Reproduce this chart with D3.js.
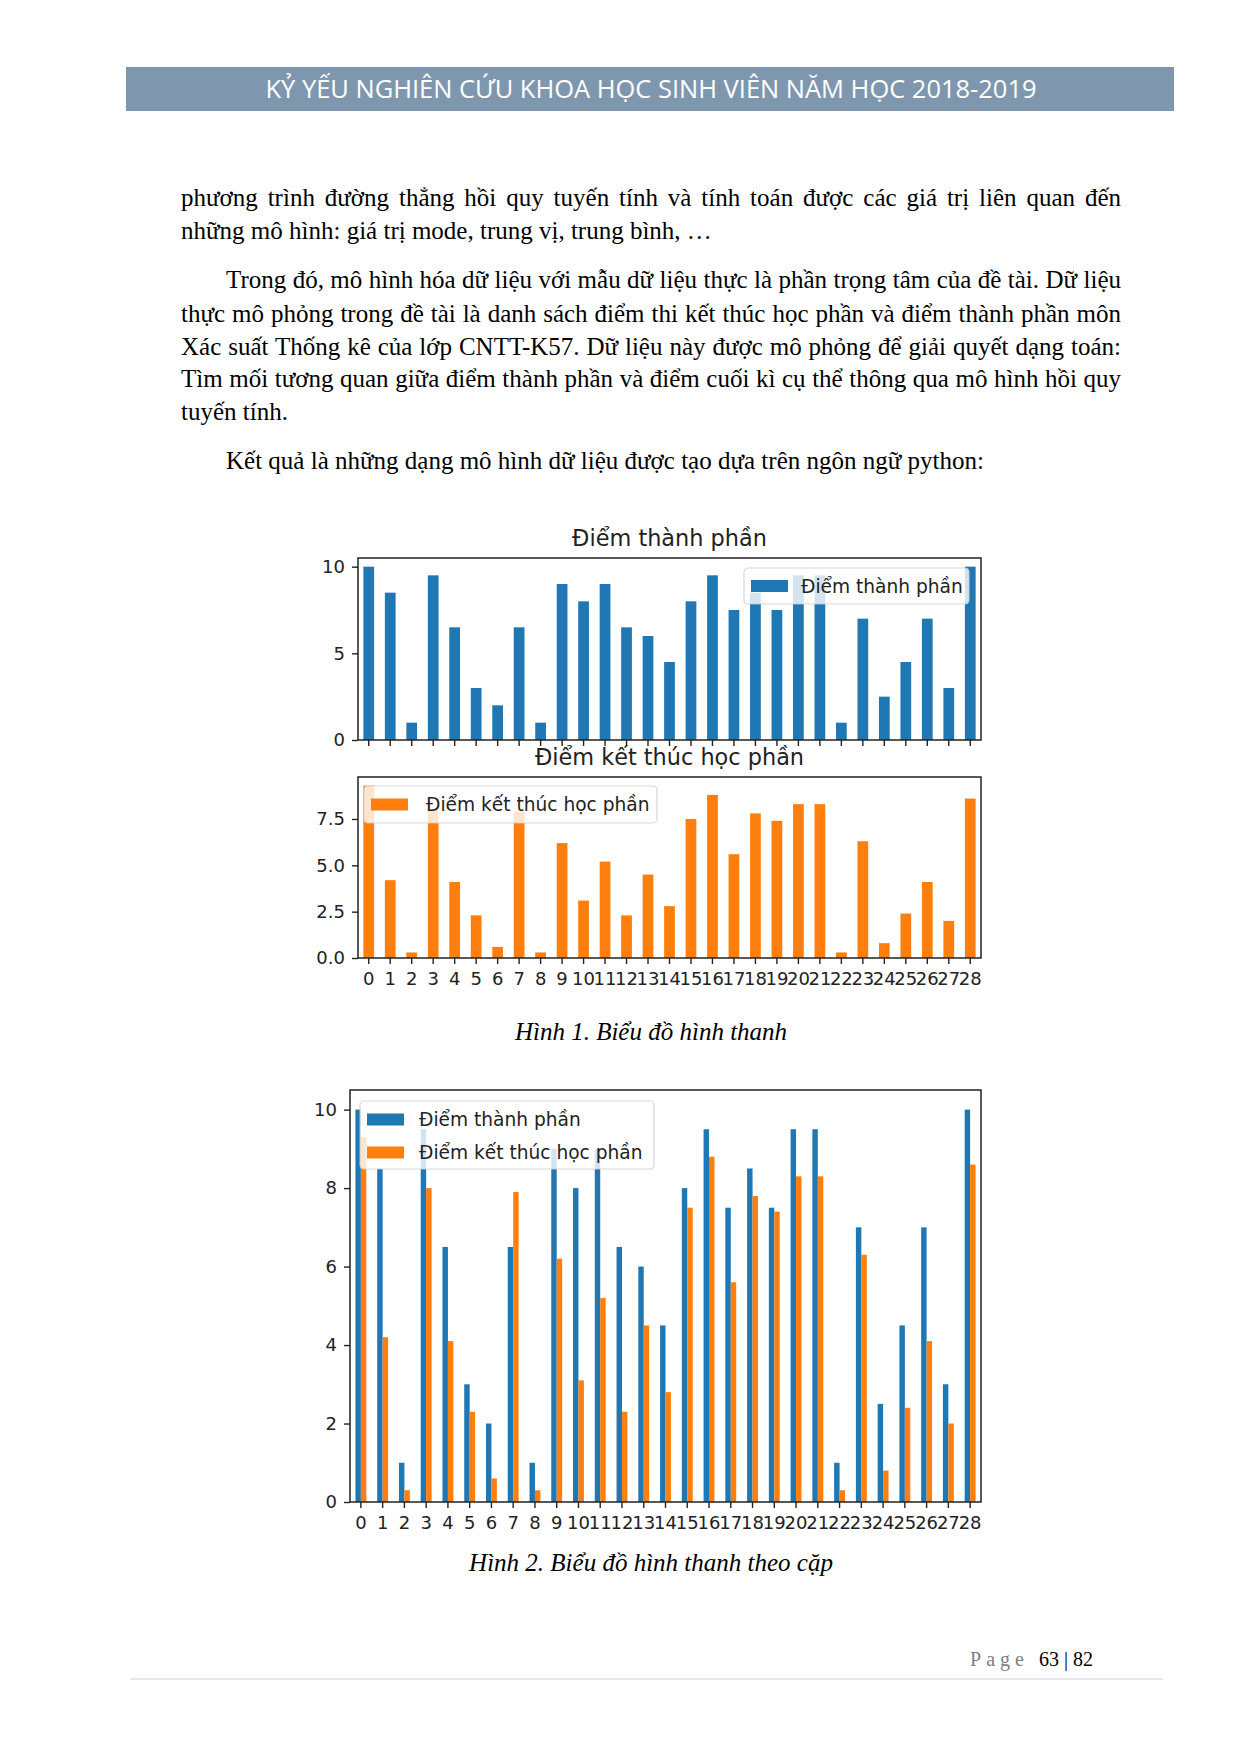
<!DOCTYPE html>
<html>
<head>
<meta charset="utf-8">
<script src="https://cdn.jsdelivr.net/npm/d3@7"></script>
<style>
  html, body { margin: 0; padding: 0; background: #fff; }
  #page { position: relative; width: 1240px; height: 1753px; overflow: hidden; }
  svg { position: absolute; left: 0; top: 0; }
  .line { position: absolute; font-family: "Liberation Serif", "Times New Roman", serif; font-size: 25px; color: #000; white-space: nowrap; line-height: 33px; height: 33px; }
  .just { text-align: justify; text-align-last: justify; white-space: normal; }
</style>
</head>
<body>
<div id="page"></div>
<script>
// ---------------- DATA ----------------
const categories = ["0","1","2","3","4","5","6","7","8","9","10","11","12","13","14","15","16","17","18","19","20","21","22","23","24","25","26","27","28"];
const diemThanhPhan = [10, 8.5, 1, 9.5, 6.5, 3, 2, 6.5, 1, 9, 8, 9, 6.5, 6, 4.5, 8, 9.5, 7.5, 8.5, 7.5, 9.5, 9.5, 1, 7, 2.5, 4.5, 7, 3, 10];
const diemKetThuc = [9.3, 4.2, 0.3, 8.0, 4.1, 2.3, 0.6, 7.9, 0.3, 6.2, 3.1, 5.2, 2.3, 4.5, 2.8, 7.5, 8.8, 5.6, 7.8, 7.4, 8.3, 8.3, 0.3, 6.3, 0.8, 2.4, 4.1, 2.0, 8.6];
const seriesNames = ["Điểm thành phần", "Điểm kết thúc học phần"];
const seriesColors = ["#1f77b4", "#ff7f0e"];
const ticksThanhPhan = [0, 5, 10];
const ticksKetThuc = [0, 2.5, 5, 7.5];
const ticksPair = [0, 2, 4, 6, 8, 10];

const headerText = "KỶ YẾU NGHIÊN CỨU KHOA HỌC SINH VIÊN NĂM HỌC 2018-2019";
const bodyLines = [
  "phương trình đường thẳng hồi quy tuyến tính và tính toán được các giá trị liên quan đến",
  "những mô hình: giá trị mode, trung vị, trung bình, …",
  "Trong đó, mô hình hóa dữ liệu với mẫu dữ liệu thực là phần trọng tâm của đề tài. Dữ liệu",
  "thực mô phỏng trong đề tài là danh sách điểm thi kết thúc học phần và điểm thành phần môn",
  "Xác suất Thống kê của lớp CNTT-K57. Dữ liệu này được mô phỏng để giải quyết dạng toán:",
  "Tìm mối tương quan giữa điểm thành phần và điểm cuối kì cụ thể thông qua mô hình hồi quy",
  "tuyến tính.",
  "Kết quả là những dạng mô hình dữ liệu được tạo dựa trên ngôn ngữ python:"
];
const caption1 = "Hình 1. Biểu đồ hình thanh";
const caption2 = "Hình 2. Biểu đồ hình thanh theo cặp";

// ---------------- LAYOUT ----------------
const W = 1240, H = 1753;
const page = d3.select("#page");
const svg = page.append("svg").attr("width", W).attr("height", H);
svg.append("rect").attr("width", W).attr("height", H).attr("fill", "#fff");

// header bar
svg.append("rect").attr("x", 126).attr("y", 67).attr("width", 1048).attr("height", 44).attr("fill", "#7f97ae");
svg.append("text").attr("x", 651).attr("y", 98).attr("text-anchor", "middle")
  .attr("font-family", "'Open Sans', sans-serif").attr("font-size", 25).attr("fill", "#fff")
  .attr("textLength", 771).attr("lengthAdjust", "spacingAndGlyphs").text(headerText);

// body text
const lineLayout = [
  {cy: 197, indent: 0, just: true},
  {cy: 230, indent: 0, just: false},
  {cy: 279, indent: 45, just: true},
  {cy: 313, indent: 0, just: true},
  {cy: 346, indent: 0, just: true},
  {cy: 378.5, indent: 0, just: true},
  {cy: 411.5, indent: 0, just: false},
  {cy: 460, indent: 45, just: false}
];
const textLeft = 181, textRight = 1121;
bodyLines.forEach((t, i) => {
  const L = lineLayout[i];
  page.append("div").attr("class", "line" + (L.just ? " just" : ""))
    .style("left", (textLeft + L.indent) + "px")
    .style("top", (L.cy - 16.5) + "px")
    .style("width", (textRight - textLeft - L.indent) + "px")
    .text(t);
});

// ---------------- CHARTS ----------------
const FONT = "'DejaVu Sans', sans-serif";

function drawLegend(g, box, entries) {
  const lg = g.append("g");
  lg.append("rect").attr("x", box.x).attr("y", box.y).attr("width", box.w).attr("height", box.h)
    .attr("rx", 4).attr("fill", "#fff").attr("fill-opacity", 0.8)
    .attr("stroke", "#cccccc").attr("stroke-opacity", 0.8).attr("stroke-width", 1.2);
  entries.forEach((e, i) => {
    const cy = box.y + box.rowStart + i * box.rowGap;
    lg.append("rect").attr("x", box.x + 7).attr("y", cy - 6).attr("width", 37).attr("height", 12).attr("fill", e.color);
    lg.append("text").attr("x", box.x + box.textX).attr("y", cy).attr("dy", "0.36em")
      .attr("font-family", FONT).attr("font-size", 18.6).attr("fill", "#222").text(e.name);
  });
}

function drawPanel(cfg) {
  const g = svg.append("g");
  const x = d3.scaleBand().domain(categories).range([cfg.x0, cfg.x1]).paddingInner(0.5).paddingOuter(0.25);
  const yMax = d3.max(cfg.series.flatMap(s => s.values)) * 1.05;
  const y = d3.scaleLinear().domain([0, yMax]).range([cfg.y1, cfg.y0]);
  const inner = d3.scaleBand().domain(cfg.series.map(s => s.name)).range([0, x.bandwidth()]);

  cfg.series.forEach(s => {
    g.append("g").selectAll("rect").data(s.values).join("rect")
      .attr("x", (d, i) => x(categories[i]) + inner(s.name))
      .attr("width", inner.bandwidth())
      .attr("y", d => y(d))
      .attr("height", d => y(0) - y(d))
      .attr("fill", s.color);
  });

  // axes
  const yAxis = d3.axisLeft(y).tickValues(cfg.yTicks).tickSize(6).tickPadding(7).tickFormat(cfg.yFmt);
  const ya = g.append("g").attr("transform", `translate(${cfg.x0},0)`).call(yAxis);
  const xAxis = d3.axisBottom(x).tickSize(6).tickPadding(8);
  const xa = g.append("g").attr("transform", `translate(0,${cfg.y1})`).call(xAxis);
  [ya, xa].forEach(a => {
    a.select(".domain").remove();
    a.selectAll(".tick line").attr("stroke", "#222").attr("stroke-width", 1.4);
    a.selectAll(".tick text").attr("font-family", FONT).attr("font-size", 18).attr("fill", "#222");
  });
  if (!cfg.showX) xa.selectAll(".tick text").remove();

  // spines
  g.append("rect").attr("x", cfg.x0).attr("y", cfg.y0).attr("width", cfg.x1 - cfg.x0).attr("height", cfg.y1 - cfg.y0)
    .attr("fill", "none").attr("stroke", "#222").attr("stroke-width", 1.5);

  if (cfg.title) {
    g.append("text").attr("x", (cfg.x0 + cfg.x1) / 2).attr("y", cfg.y0 - 12)
      .attr("text-anchor", "middle").attr("font-family", FONT).attr("font-size", 22.4).attr("fill", "#222").text(cfg.title);
  }
  drawLegend(g, cfg.legend, cfg.series.map(s => ({name: s.name, color: s.color})));
}

const sTP = {name: seriesNames[0], values: diemThanhPhan, color: seriesColors[0]};
const sKT = {name: seriesNames[1], values: diemKetThuc, color: seriesColors[1]};

drawPanel({x0: 358, x1: 981, y0: 558, y1: 740, series: [sTP], yTicks: ticksThanhPhan, yFmt: d3.format("d"),
  title: seriesNames[0], showX: false,
  legend: {x: 744, y: 568, w: 225, h: 36, rowStart: 18, rowGap: 33, textX: 57}});
drawPanel({x0: 358, x1: 981, y0: 777, y1: 958, series: [sKT], yTicks: ticksKetThuc, yFmt: d3.format(".1f"),
  title: seriesNames[1], showX: true,
  legend: {x: 364, y: 786, w: 293, h: 37, rowStart: 18.5, rowGap: 33, textX: 62}});
drawPanel({x0: 350, x1: 981, y0: 1090, y1: 1502, series: [sTP, sKT], yTicks: ticksPair, yFmt: d3.format("d"),
  title: null, showX: true,
  legend: {x: 360, y: 1101, w: 294, h: 68, rowStart: 18.5, rowGap: 33, textX: 59}});

// captions
[[caption1, 1032], [caption2, 1563]].forEach(([t, cy]) => {
  svg.append("text").attr("x", 651).attr("y", cy).attr("dy", "0.32em").attr("text-anchor", "middle")
    .attr("font-family", "'Liberation Serif', serif").attr("font-style", "italic").attr("font-size", 25)
    .attr("fill", "#000").text(t);
});

// footer
const ft = svg.append("text").attr("x", 1093).attr("y", 1666).attr("text-anchor", "end")
  .attr("font-family", "'Liberation Serif', serif").attr("font-size", 20);
ft.append("tspan").attr("fill", "#7f7f7f").attr("letter-spacing", 5).text("Page ");
ft.append("tspan").attr("fill", "#000").text("63 | 82");
svg.append("line").attr("x1", 131).attr("x2", 1163).attr("y1", 1679).attr("y2", 1679)
  .attr("stroke", "#d0d0d8").attr("stroke-width", 1.2);
</script>
</body>
</html>
